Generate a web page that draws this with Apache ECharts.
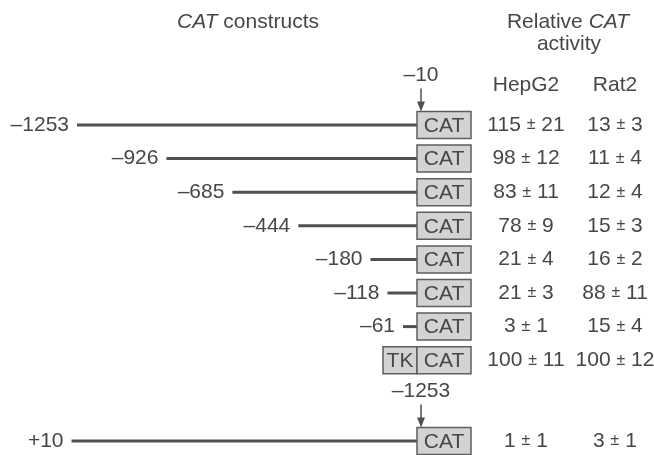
<!DOCTYPE html>
<html>
<head>
<meta charset="utf-8">
<script src="https://cdn.jsdelivr.net/npm/echarts@6/dist/echarts.min.js"></script>
<style>
  html, body { margin: 0; padding: 0; background: #fff; }
  #chart { width: 654px; height: 455px; }
</style>
</head>
<body>
<div id="chart"></div>
<script>
// 5' end (bp) of each promoter fragment fused to CAT at -10; last row uses the TK promoter
const constructStarts = [-1253, -926, -685, -444, -180, -118, -61, -10];
const constructPromoter = ['', '', '', '', '', '', '', 'TK'];
const hepg2Mean = [115, 98, 83, 78, 21, 21, 3, 100];
const hepg2SD = [21, 12, 11, 9, 4, 3, 1, 11];
const rat2Mean = [13, 11, 12, 15, 16, 88, 15, 100];
const rat2SD = [3, 4, 4, 3, 2, 11, 4, 12];

// Fragment in reverse orientation (+10 ... -1253) placed upstream of CAT
const invertedFrom = 10;
const invertedTo = -1253;
const invertedHepg2Mean = [1];
const invertedHepg2SD = [1];
const invertedRat2Mean = [3];
const invertedRat2SD = [1];

const junction = -10;
const columnHeaders = ['HepG2', 'Rat2'];

const INK = '#474747';
const FONT = "'Liberation Sans', Arial, Helvetica, sans-serif";
const FS = 21;
const COL_X = [526, 615];
const BOX_W = 54, BOX_H = 27, TK_W = 34;

function fmtPos(v) {
  return v < 0 ? '\u2013' + Math.abs(v) : (v > 0 ? '+' + v : '0');
}

function textEl(x, y, text, extra) {
  return {
    type: 'text',
    style: Object.assign({
      x: x, y: y, text: text, fill: INK,
      fontSize: FS, fontFamily: FONT,
      align: 'center', verticalAlign: 'middle',
      rich: { pm: { fontSize: 16, fontFamily: FONT, fill: INK } }
    }, extra || {})
  };
}

function valueText(m, sd) {
  return m + ' {pm|\u00b1} ' + sd;
}

// Draws one construct: fragment line, its 5' label, promoter/CAT boxes and activities
function constructRenderer(rows) {
  return function (params, api) {
    const i = params.dataIndex;
    const start = api.coord([api.value(0), api.value(1)]);
    const end = api.coord([junction, api.value(1)]);
    const cy = end[1];
    const children = [];
    if (start[0] < end[0] - 1) {
      children.push({
        type: 'line',
        shape: { x1: start[0], y1: cy, x2: end[0], y2: cy },
        style: { stroke: '#505050', lineWidth: 3 }
      });
      children.push(textEl(start[0] - 8, cy, rows.labels[i], { align: 'right' }));
    }
    if (rows.promoter[i]) {
      children.push({
        type: 'rect',
        shape: { x: end[0] - TK_W, y: cy - BOX_H / 2, width: TK_W, height: BOX_H },
        style: { fill: '#d3d3d3', stroke: '#5e5e5e', lineWidth: 1.5 }
      });
      children.push(textEl(end[0] - TK_W / 2, cy + 1, rows.promoter[i]));
    }
    children.push({
      type: 'rect',
      shape: { x: end[0], y: cy - BOX_H / 2, width: BOX_W, height: BOX_H },
      style: { fill: '#d3d3d3', stroke: '#5e5e5e', lineWidth: 1.5 }
    });
    children.push(textEl(end[0] + BOX_W / 2, cy + 1, 'CAT'));
    children.push(textEl(COL_X[0], cy, valueText(rows.hm[i], rows.hs[i])));
    children.push(textEl(COL_X[1], cy, valueText(rows.rm[i], rows.rs[i])));
    return { type: 'group', children: children };
  };
}

// Arrow marking the fusion point above the first construct of a block
function markerRenderer(label) {
  return function (params, api) {
    const p = api.coord([api.value(0), api.value(1)]);
    const ax = p[0] + 4;
    const top = p[1] - BOX_H / 2;
    return {
      type: 'group',
      children: [
        { type: 'line', shape: { x1: ax, y1: top - 23, x2: ax, y2: top - 9 },
          style: { stroke: '#505050', lineWidth: 1.5 } },
        { type: 'polygon', shape: { points: [[ax - 4, top - 10], [ax + 4, top - 10], [ax, top]] },
          style: { fill: '#505050' } },
        textEl(ax, top - 36, label)
      ]
    };
  };
}

const mainRows = {
  labels: constructStarts.map((s, i) => constructPromoter[i] ? '' : fmtPos(s)),
  promoter: constructPromoter,
  hm: hepg2Mean, hs: hepg2SD, rm: rat2Mean, rs: rat2SD
};
const invRows = {
  labels: [fmtPos(invertedFrom)],
  promoter: [''],
  hm: invertedHepg2Mean, hs: invertedHepg2SD, rm: invertedRat2Mean, rs: invertedRat2SD
};
const invertedLength = invertedFrom - invertedTo;

const xScale = { type: 'value', min: -1300, max: -10, show: false };

const italic = { i: { fontStyle: 'italic', fontSize: FS, fontFamily: FONT, fill: INK } };

const option = {
  backgroundColor: '#fff',
  animation: false,
  grid: [
    { left: 64.14, right: 237, top: 108.2, height: 268.8 },
    { left: 64.14, right: 237, top: 427.5, height: 27 }
  ],
  xAxis: [
    Object.assign({ gridIndex: 0 }, xScale),
    Object.assign({ gridIndex: 1 }, xScale)
  ],
  yAxis: [
    { type: 'category', gridIndex: 0, inverse: true, show: false,
      data: constructStarts.map((s, i) => String(i)) },
    { type: 'category', gridIndex: 1, inverse: true, show: false, data: ['0'] }
  ],
  graphic: [
    textEl(248, 22, '{i|CAT} constructs', { rich: italic }),
    textEl(568, 22, 'Relative {i|CAT}', { rich: italic }),
    textEl(569, 44, 'activity'),
    textEl(COL_X[0], 85, columnHeaders[0]),
    textEl(COL_X[1], 85, columnHeaders[1])
  ],
  series: [
    { type: 'custom', xAxisIndex: 0, yAxisIndex: 0, clip: false,
      renderItem: constructRenderer(mainRows),
      data: constructStarts.map((s, i) => [s, i]) },
    { type: 'custom', xAxisIndex: 0, yAxisIndex: 0, clip: false,
      renderItem: markerRenderer(fmtPos(junction)),
      data: [[junction, 0]] },
    { type: 'custom', xAxisIndex: 1, yAxisIndex: 1, clip: false,
      renderItem: constructRenderer(invRows),
      data: [[junction - invertedLength, 0]] },
    { type: 'custom', xAxisIndex: 1, yAxisIndex: 1, clip: false,
      renderItem: markerRenderer(fmtPos(invertedTo)),
      data: [[junction, 0]] }
  ]
};

const chart = echarts.init(document.getElementById('chart'), null, { renderer: 'canvas' });
chart.setOption(option);
</script>
</body>
</html>
